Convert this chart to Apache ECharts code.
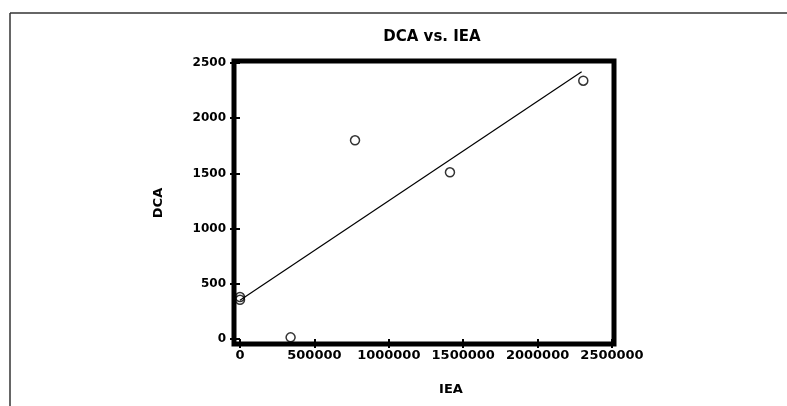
<!DOCTYPE html>
<html>
<head>
<meta charset="utf-8">
<script src="https://cdn.jsdelivr.net/npm/echarts@6/dist/echarts.min.js"></script>
<style>
  html, body { margin: 0; padding: 0; background: #fff; }
  #chart { width: 787px; height: 406px; }
</style>
</head>
<body>
<div id="chart"></div>
<script>
// Observed IEA / DCA pairs
const iea = [0, 0, 340000, 773000, 1411000, 2307000];
const dca = [380, 355, 15, 1800, 1510, 2340];

// Fitted line end points
const fitX = [0, 2296000];
const fitY = [352, 2421];

const chart = echarts.init(document.getElementById('chart'));
const font = '"DejaVu Sans", Arial, sans-serif';

chart.setOption({
  animation: false,
  backgroundColor: '#fff',
  title: {
    text: 'DCA vs. IEA',
    left: 427, top: 25, textAlign: 'center',
    textStyle: { fontFamily: font, fontSize: 15, fontWeight: 'bold', color: '#000' }
  },
  graphic: [
    // page border
    { type: 'line', shape: { x1: 10, y1: 13, x2: 787, y2: 13 }, style: { stroke: '#333', lineWidth: 1.5 } },
    { type: 'line', shape: { x1: 10, y1: 13, x2: 10, y2: 406 }, style: { stroke: '#333', lineWidth: 1.5 } },
    // heavy plot frame
    { type: 'rect', shape: { x: 234, y: 61, width: 380, height: 283 },
      style: { fill: null, stroke: '#000', lineWidth: 5 }, z: 10 },
    // axis titles
    { type: 'text', x: 451, y: 390, z: 10,
      style: { text: 'IEA', font: 'bold 13px "DejaVu Sans", Arial, sans-serif', fill: '#000',
               textAlign: 'center', textVerticalAlign: 'middle' } },
    { type: 'text', x: 159, y: 203, rotation: Math.PI / 2, z: 10,
      style: { text: 'DCA', font: 'bold 13px "DejaVu Sans", Arial, sans-serif', fill: '#000',
               textAlign: 'center', textVerticalAlign: 'middle' } }
  ],
  grid: { left: 240, right: 787 - 612, top: 63, bottom: 406 - 339 },
  xAxis: {
    type: 'value', min: 0, max: 2500000, interval: 500000,
    axisLine: { show: false },
    axisTick: { show: true, length: 9, lineStyle: { color: '#000', width: 2 } },
    axisLabel: { fontFamily: font, fontSize: 13, fontWeight: 'bold', color: '#000', margin: 10,
                 formatter: v => String(v) },
    splitLine: { show: false }
  },
  yAxis: {
    type: 'value', min: 0, max: 2500, interval: 500,
    axisLine: { show: false },
    axisTick: { show: true, length: 10, lineStyle: { color: '#000', width: 2 } },
    axisLabel: { fontFamily: font, fontSize: 12, fontWeight: 'bold', color: '#000', margin: 14,
                 formatter: v => String(v) },
    splitLine: { show: false }
  },
  series: [
    {
      type: 'scatter',
      data: iea.map((x, i) => [x, dca[i]]),
      symbol: 'circle', symbolSize: 9,
      itemStyle: { color: 'rgba(255,255,255,0)', borderColor: '#000', borderWidth: 1.5 },
      clip: false, z: 3
    },
    {
      type: 'line',
      data: fitX.map((x, i) => [x, fitY[i]]),
      showSymbol: false, symbol: 'none',
      lineStyle: { color: '#000', width: 1.2 },
      z: 2
    }
  ]
});
</script>
</body>
</html>
